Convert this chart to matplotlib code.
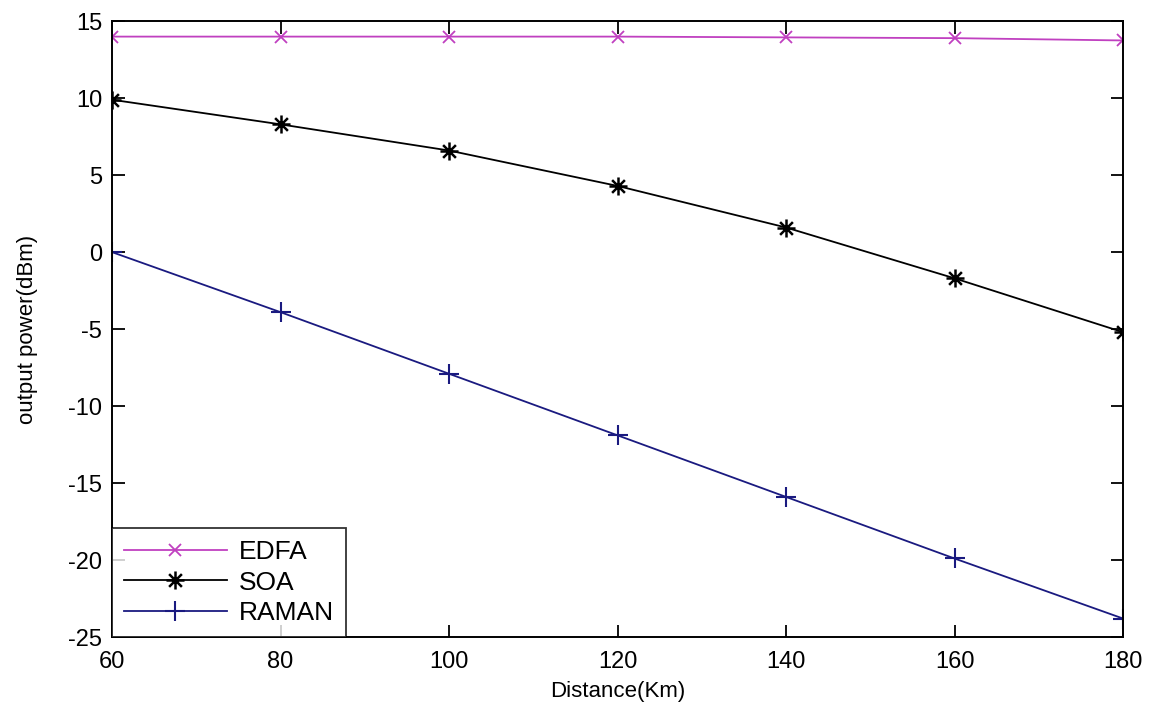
import matplotlib
matplotlib.use("Agg")
import matplotlib.pyplot as plt
from matplotlib.path import Path

distance = [60, 80, 100, 120, 140, 160, 180]
edfa = [14.0, 14.0, 14.0, 14.0, 13.95, 13.9, 13.75]
soa = [9.9, 8.3, 6.6, 4.3, 1.6, -1.7, -5.2]
raman = [0.0, -3.9, -7.9, -11.9, -15.9, -19.9, -23.8]
xticks = [60, 80, 100, 120, 140, 160, 180]
yticks = [-25, -20, -15, -10, -5, 0, 5, 10, 15]

plt.rcParams['font.family'] = ['Liberation Sans', 'DejaVu Sans']
plt.rcParams['axes.unicode_minus'] = False

# MATLAB-style line asterisk marker
d = 0.707
ast_verts = [(0, -1), (0, 1), (-1, 0), (1, 0), (-d, -d), (d, d), (-d, d), (d, -d)]
ast_codes = [Path.MOVETO, Path.LINETO] * 4
asterisk = Path(ast_verts, ast_codes)

fig = plt.figure(figsize=(11.61, 7.07), dpi=100)
ax = fig.add_axes([0.0965, 0.099, 0.8708, 0.871])

ax.plot(distance, edfa, color='#c040c0', marker='x', markersize=9, markeredgewidth=1.3,
        linewidth=1.3, label='EDFA')
ax.plot(distance, soa, color='black', marker=asterisk, markersize=13, markeredgewidth=1.8,
        linewidth=1.3, label='SOA')
ax.plot(distance, raman, color='#1a1a80', marker='+', markersize=15, markeredgewidth=1.5,
        linewidth=1.3, label='RAMAN')

ax.set_xlim(60, 180)
ax.set_ylim(-25, 15)
ax.set_xticks(xticks)
ax.set_yticks(yticks)
ax.tick_params(direction='in', top=True, right=True, length=9, width=1.3, labelsize=17)
ax.tick_params(axis='x', pad=10)
ax.tick_params(axis='y', pad=7)
for s in ax.spines.values():
    s.set_linewidth(1.4)

ax.set_xlabel('Distance(Km)', fontsize=16, labelpad=6)
ax.set_ylabel('output power(dBm)', fontsize=16, labelpad=22)

leg = ax.legend(loc='lower left', fontsize=19, frameon=True, fancybox=False,
                edgecolor='black', borderaxespad=0.0, handlelength=3.9,
                handletextpad=0.45, labelspacing=0.25, borderpad=0.45)
leg.get_frame().set_linewidth(1.3)

fig.savefig('out.png', dpi=100)
